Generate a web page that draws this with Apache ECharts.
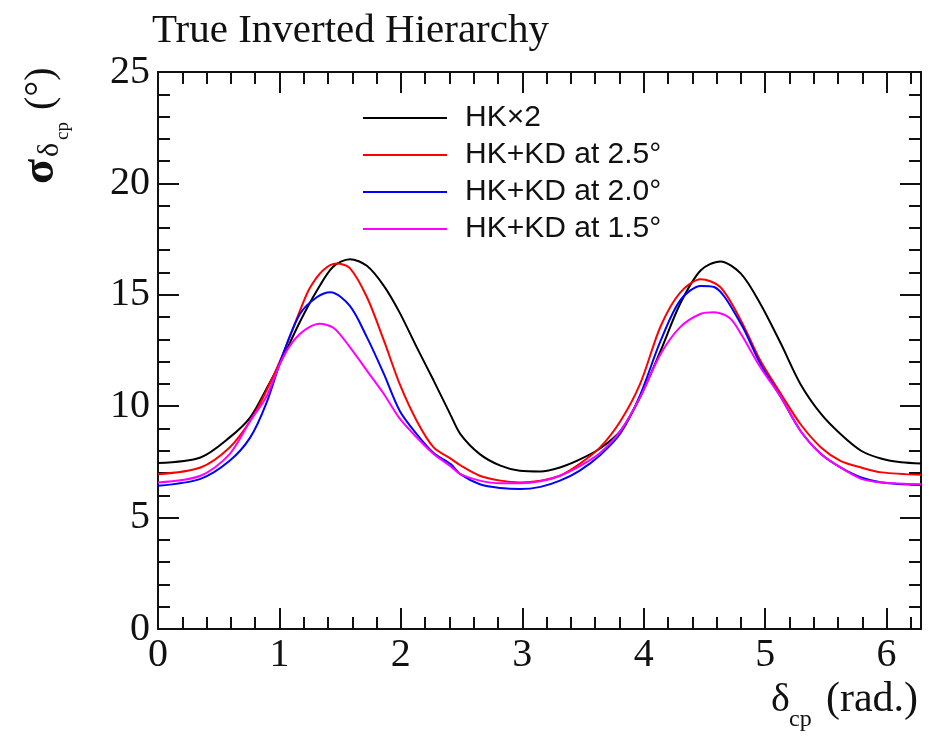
<!DOCTYPE html>
<html>
<head>
<meta charset="utf-8">
<script src="https://cdn.jsdelivr.net/npm/echarts@6/dist/echarts.min.js"></script>
<style>
  html, body { margin: 0; padding: 0; background: #fff; }
  #chart { width: 931px; height: 738px; }
</style>
</head>
<body>
<div id="chart"></div>
<script>
// sigma(delta_cp) vs delta_cp
const hkX = [0, 0.35, 0.59, 0.76, 0.9, 1.03, 1.17, 1.31, 1.44, 1.58, 1.72, 1.86, 1.99, 2.13, 2.27, 2.41, 2.49, 2.65, 2.82, 2.98, 3.15, 3.31, 3.47, 3.64, 3.81, 3.97, 4.14, 4.3, 4.47, 4.63, 4.8, 4.96, 5.13, 5.29, 5.46, 5.62, 5.79, 5.96, 6.12, 6.283]
const hkY = [7.45, 7.7, 8.6, 9.5, 10.85, 12.2, 13.8, 15.2, 16.25, 16.6, 16.3, 15.4, 14.2, 12.65, 11.15, 9.6, 8.75, 7.85, 7.33, 7.1, 7.07, 7.25, 7.6, 8.1, 8.9, 10.4, 12.5, 14.6, 16.1, 16.5, 15.95, 14.6, 12.8, 11.0, 9.65, 8.75, 8.0, 7.64, 7.48, 7.43]

const kd25X = [0, 0.35, 0.59, 0.76, 0.88, 1.03, 1.17, 1.25, 1.36, 1.47, 1.58, 1.72, 1.86, 1.99, 2.13, 2.27, 2.41, 2.49, 2.65, 2.82, 2.98, 3.15, 3.31, 3.47, 3.64, 3.81, 3.97, 4.14, 4.3, 4.47, 4.63, 4.8, 4.96, 5.13, 5.29, 5.46, 5.62, 5.79, 5.96, 6.283]
const kd25Y = [6.95, 7.25, 8.15, 9.35, 10.55, 12.35, 14.3, 15.3, 16.1, 16.4, 16.2, 14.9, 12.95, 11.0, 9.35, 8.15, 7.65, 7.35, 6.88, 6.66, 6.58, 6.66, 6.88, 7.4, 8.15, 9.35, 11.0, 13.6, 15.1, 15.7, 15.35, 13.85, 12.05, 10.55, 9.2, 8.15, 7.55, 7.25, 7.03, 6.92]

const kd20X = [0, 0.35, 0.59, 0.76, 0.89, 1.03, 1.17, 1.31, 1.42, 1.58, 1.72, 1.86, 1.99, 2.13, 2.27, 2.41, 2.49, 2.65, 2.82, 2.98, 3.15, 3.31, 3.47, 3.64, 3.81, 3.97, 4.14, 4.3, 4.47, 4.58, 4.8, 4.96, 5.13, 5.29, 5.46, 5.62, 5.79, 5.96, 6.283]
const kd20Y = [6.43, 6.74, 7.55, 8.6, 10.1, 12.35, 14.15, 14.9, 15.12, 14.5, 13.1, 11.45, 9.8, 8.75, 7.9, 7.4, 6.95, 6.5, 6.33, 6.28, 6.38, 6.66, 7.1, 7.8, 8.8, 10.5, 12.95, 14.75, 15.4, 15.35, 13.7, 11.9, 10.4, 8.9, 7.85, 7.25, 6.8, 6.58, 6.46]

const kd15X = [0, 0.35, 0.59, 0.76, 0.89, 1.03, 1.17, 1.33, 1.45, 1.58, 1.72, 1.86, 1.99, 2.13, 2.27, 2.41, 2.49, 2.65, 2.82, 2.98, 3.15, 3.31, 3.47, 3.64, 3.81, 3.97, 4.14, 4.3, 4.47, 4.58, 4.71, 4.8, 4.96, 5.13, 5.29, 5.46, 5.62, 5.79, 5.96, 6.283]
const kd15Y = [6.58, 6.88, 7.85, 9.35, 10.4, 12.2, 13.25, 13.7, 13.5, 12.65, 11.6, 10.55, 9.45, 8.6, 7.85, 7.3, 6.95, 6.66, 6.54, 6.54, 6.63, 6.88, 7.3, 7.9, 8.9, 10.4, 12.35, 13.55, 14.15, 14.22, 13.95, 13.25, 11.75, 10.4, 8.9, 7.85, 7.25, 6.74, 6.58, 6.5]

const seriesNames = ['HK×2', 'HK+KD at 2.5°', 'HK+KD at 2.0°', 'HK+KD at 1.5°']
const seriesColors = ['#000000', '#ff0000', '#0000ff', '#ff00ff']

const xMax = 2 * Math.PI
const serif = 'Liberation Serif'
const sans = 'Liberation Sans'
const ink = '#111'

const zip = (xs, ys) => xs.map((x, i) => [x, ys[i]])
const curves = [zip(hkX, hkY), zip(kd25X, kd25Y), zip(kd20X, kd20Y), zip(kd15X, kd15Y)]

// frame axes, ROOT style: ticks inside on all four sides,
// minor ticks drawn by a second unlabelled axis on the same side
const tickStyle = { color: ink, width: 2 }
const frameLine = show => ({ show, onZero: false, lineStyle: { color: ink, width: 2 } })

const majorX = (position, labels) => ({
  type: 'value',
  position,
  min: 0,
  max: xMax,
  interval: 1,
  splitLine: { show: false },
  axisLine: frameLine(true),
  axisTick: { inside: true, length: 21, lineStyle: tickStyle },
  axisLabel: {
    show: labels,
    margin: 6,
    fontFamily: serif,
    fontSize: 40,
    color: ink,
    formatter: v => (Number.isInteger(v) ? String(v) : '')
  }
})
const minorX = position => ({
  type: 'value',
  position,
  min: 0,
  max: xMax,
  interval: 0.2,
  splitLine: { show: false },
  axisLine: frameLine(false),
  axisTick: { inside: true, length: 12, lineStyle: tickStyle },
  axisLabel: { show: false }
})
const majorY = (position, labels) => ({
  type: 'value',
  position,
  min: 0,
  max: 25,
  interval: 5,
  splitLine: { show: false },
  axisLine: frameLine(true),
  axisTick: { inside: true, length: 21, lineStyle: tickStyle },
  axisLabel: { show: labels, margin: 8, fontFamily: serif, fontSize: 40, color: ink }
})
const minorY = position => ({
  type: 'value',
  position,
  min: 0,
  max: 25,
  interval: 1,
  splitLine: { show: false },
  axisLine: frameLine(false),
  axisTick: { inside: true, length: 12, lineStyle: tickStyle },
  axisLabel: { show: false }
})

const chart = echarts.init(document.getElementById('chart'), null, { renderer: 'canvas' })

chart.setOption({
  backgroundColor: '#fff',
  animation: false,
  grid: { left: 158, right: 10, top: 72, bottom: 109, containLabel: false },
  xAxis: [majorX('bottom', true), minorX('bottom'), majorX('top', false), minorX('top')],
  yAxis: [majorY('left', true), minorY('left'), majorY('right', false), minorY('right')],
  legend: {
    orient: 'vertical',
    left: 363,
    top: 103,
    padding: 0,
    icon: 'rect',
    itemWidth: 84,
    itemHeight: 2,
    itemGap: 7,
    textStyle: { fontFamily: sans, fontSize: 30, color: ink, lineHeight: 30, padding: [0, 0, 0, 13] },
    data: seriesNames
  },
  series: curves.map((data, i) => ({
    name: seriesNames[i],
    type: 'line',
    data,
    smooth: 0.3,
    showSymbol: false,
    lineStyle: { color: seriesColors[i], width: 2 },
    itemStyle: { color: seriesColors[i] }
  })),
  graphic: [
    {
      type: 'text',
      left: 152,
      top: 11,
      style: { text: 'True Inverted Hierarchy', font: `41px "${serif}"`, fill: ink }
    },
    {
      // y axis title, rotated to read upward
      type: 'group',
      x: 41,
      y: 184,
      rotation: Math.PI / 2,
      children: [
        { type: 'text', x: 0, y: 0, style: { text: 'σ', font: `bold 46px "${serif}"`, fill: ink, verticalAlign: 'middle' } },
        { type: 'text', x: 27, y: 9, style: { text: 'δ', font: `30px "${serif}"`, fill: ink, verticalAlign: 'middle' } },
        { type: 'text', x: 44, y: 22, style: { text: 'cp', font: `19px "${serif}"`, fill: ink, verticalAlign: 'middle' } },
        { type: 'text', x: 74, y: 0, style: { text: '(°)', font: `40px "${serif}"`, fill: ink, verticalAlign: 'middle' } }
      ]
    },
    {
      // x axis title
      type: 'group',
      x: 771,
      y: 700,
      children: [
        { type: 'text', x: 0, y: 0, style: { text: 'δ', font: `40px "${serif}"`, fill: ink, verticalAlign: 'middle' } },
        { type: 'text', x: 18, y: 20, style: { text: 'cp', font: `24px "${serif}"`, fill: ink, verticalAlign: 'middle' } },
        { type: 'text', x: 55, y: 0, style: { text: '(rad.)', font: `42px "${serif}"`, fill: ink, verticalAlign: 'middle' } }
      ]
    }
  ]
})
</script>
</body>
</html>
